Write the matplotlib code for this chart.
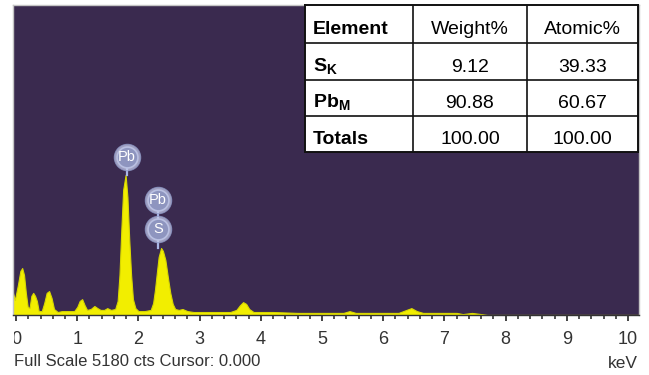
import numpy as np
import matplotlib.pyplot as plt
from matplotlib.ticker import MultipleLocator
from matplotlib.patches import Rectangle

plt.rcParams['font.family'] = ['Liberation Sans', 'DejaVu Sans']
plt.rcParams['mathtext.fontset'] = 'custom'
plt.rcParams['mathtext.rm'] = 'Liberation Sans'
plt.rcParams['mathtext.bf'] = 'Liberation Sans:bold'

# EDS spectrum, energy (keV) vs counts
energy = [-0.05, -0.02, 0.03, 0.07, 0.10, 0.13, 0.16, 0.19, 0.22, 0.25, 0.28, 0.31,
          0.34, 0.37, 0.42, 0.46, 0.50, 0.54, 0.58, 0.62, 0.68, 0.75, 0.85, 0.95,
          1.00, 1.04, 1.08, 1.12, 1.16, 1.22, 1.28, 1.33, 1.38, 1.44, 1.49, 1.55,
          1.62, 1.66, 1.69, 1.72, 1.75, 1.79, 1.82, 1.85, 1.88, 1.91, 1.95, 2.00,
          2.10, 2.20, 2.24, 2.27, 2.30, 2.33, 2.37, 2.40, 2.44, 2.48, 2.52, 2.56,
          2.60, 2.66, 2.72, 2.80, 2.90, 3.20, 3.50, 3.60, 3.66, 3.71, 3.76, 3.81,
          3.88, 4.20, 4.60, 5.35, 5.45, 5.55, 6.25, 6.38, 6.46, 6.55, 6.65, 7.20,
          7.30, 7.45, 7.60, 7.70, 10.2]
counts = [370, 250, 500, 735, 785, 670, 370, 135, 115, 320, 370, 320,
          235, 65, 65, 200, 370, 400, 285, 100, 50, 65, 65, 65,
          135, 235, 265, 165, 85, 100, 150, 115, 85, 85, 115, 85,
          100, 235, 670, 1420, 2090, 2340, 1970, 1250, 670, 265, 115, 65,
          65, 85, 200, 420, 700, 970, 1120, 1070, 920, 635, 370, 185,
          100, 85, 100, 65, 50, 50, 50, 85, 165, 215, 185, 100,
          50, 50, 35, 35, 65, 35, 35, 85, 115, 65, 35, 35,
          15, 35, 15, 0, 0]
full_scale = 5180

# peak labels: element, badge position (keV, counts), peak the stem points to
badge_labels = ['Pb', 'Pb', 'S']
badge_energy = [1.81, 2.32, 2.32]
badge_counts = [2640, 1920, 1430]
stem_top = [2340, None, 1120]

# quantification table
tbl_header = ['Element', 'Weight%', 'Atomic%']
tbl_elements = [r'$\mathbf{S}_\mathbf{K}$', r'$\mathbf{Pb}_\mathbf{M}$', 'Totals']
weight_pct = ['9.12', '90.88', '100.00']
atomic_pct = ['39.33', '60.67', '100.00']

W, H = 649, 375
fig = plt.figure(figsize=(W / 100, H / 100), dpi=100)
fig.patch.set_facecolor('white')

ax = fig.add_axes([13 / W, 1 - 315 / H, 626 / W, 310 / H])
ax.set_facecolor('#3a2a4f')
ax.fill_between(energy, counts, 0, color='#f2ee00', lw=0.8, edgecolor='#d8d800', zorder=2)
ax.set_xlim(-0.05, 10.18)
ax.set_ylim(0, full_scale)

ax.set_xticks(range(11))
ax.xaxis.set_minor_locator(MultipleLocator(0.2))
ax.tick_params(axis='x', which='major', length=4.5, width=1.2, color='#222222',
               direction='out', pad=7, labelsize=13, labelcolor='#333333')
ax.tick_params(axis='x', which='minor', length=3, width=1.1, color='#222222', direction='out')
ax.set_yticks([])
for side in ['top', 'left', 'right']:
    ax.spines[side].set_color('#c4c4c4')
    ax.spines[side].set_linewidth(1.0)
ax.spines['bottom'].set_color('#333333')
ax.spines['bottom'].set_linewidth(1.0)

# element badges with stems down to their peaks
for lab, bx, by, top in zip(badge_labels, badge_energy, badge_counts, stem_top):
    if top is not None:
        ax.plot([bx, bx], [by, top], color='#aab6e6', lw=1.6, zorder=3)
    ax.plot(bx, by, marker='o', ms=19, mfc='#c3c9e8', mec='#8f9ac8', mew=0.8,
            alpha=0.75, zorder=4)
    ax.plot(bx, by, marker='o', ms=15, mfc='#8e95bf', mec='#b9c0e2', mew=1.2, zorder=5)
    ax.text(bx, by, lab, color='white', fontsize=10.5, ha='center', va='center', zorder=6)
ax.plot([badge_energy[1]] * 2, badge_counts[1:], color='#aab6e6', lw=1.6, zorder=3)

# table in the upper right corner
tx0, tx1, ty0, ty1 = 305, 638, 5, 152
tab = fig.add_axes([tx0 / W, 1 - ty1 / H, (tx1 - tx0) / W, (ty1 - ty0) / H])
tab.set_xlim(0, tx1 - tx0)
tab.set_ylim(ty1 - ty0, 0)
tab.set_facecolor('white')
tab.set_xticks([])
tab.set_yticks([])
for s in tab.spines.values():
    s.set_color('#111111')
    s.set_linewidth(1.4)
row_edges = [0, 38.3, 75, 110.7, 147]
col_edges = [0, 108.3, 221.7, 333]
for y in row_edges[1:-1]:
    tab.axhline(y, color='#111111', lw=1.2)
for x in col_edges[1:-1]:
    tab.axvline(x, color='#111111', lw=1.2)

rows = [tbl_header] + [[e, w, a] for e, w, a in zip(tbl_elements, weight_pct, atomic_pct)]
for i, row in enumerate(rows):
    yb = (row_edges[i] + row_edges[i + 1]) / 2 + 10
    tab.text(8, yb, row[0], fontsize=14, fontweight='bold', ha='left', va='baseline')
    for j in (1, 2):
        xc = (col_edges[j] + col_edges[j + 1]) / 2
        tab.text(xc, yb, row[j], fontsize=14, ha='center', va='baseline')

fig.text(638 / W, 1 - 363 / H, 'keV', fontsize=12.5, color='#333333', ha='right', va='center')
fig.text(14 / W, 1 - 362 / H, 'Full Scale 5180 cts Cursor: 0.000', fontsize=12,
         color='#333333', ha='left', va='center')

# left border of the exported panel trims the first tick label
fig.patches.append(Rectangle((0, 0), 13.5 / W, 1 - 317 / H, transform=fig.transFigure,
                             facecolor='white', edgecolor='none', zorder=20))

fig.savefig('out.png', dpi=100)
